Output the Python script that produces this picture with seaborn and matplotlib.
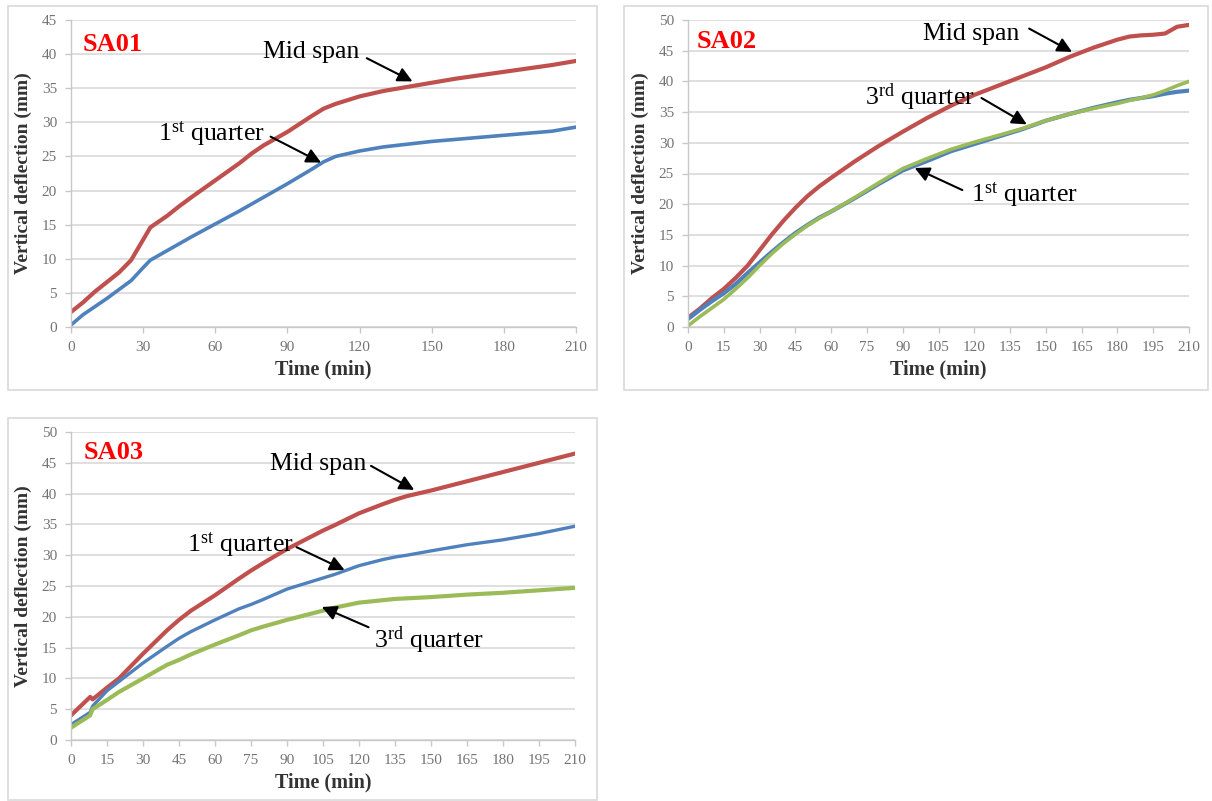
import numpy as np
import pandas as pd
import matplotlib
matplotlib.use("Agg")
import matplotlib.pyplot as plt
import seaborn as sns
from matplotlib.patches import Rectangle

# ---------------- data ----------------
sa01_time = [0, 5, 10, 15, 20, 25, 30, 33, 40, 45, 50, 60, 70, 75, 80, 90, 100, 105, 110,
             120, 130, 140, 150, 160, 170, 180, 190, 200, 210]
sa01_mid = [2.2, 3.6, 5.2, 6.6, 8.0, 9.8, 12.8, 14.6, 16.3, 17.7, 19.0, 21.5, 24.0, 25.4, 26.6,
            28.6, 30.9, 32.0, 32.7, 33.8, 34.6, 35.2, 35.8, 36.4, 36.9, 37.4, 37.9, 38.4, 39.0]
sa01_q1 = [0.3, 1.8, 3.0, 4.2, 5.5, 6.8, 8.7, 9.8, 11.2, 12.2, 13.2, 15.1, 17.0, 18.0, 19.0,
           21.0, 23.1, 24.2, 25.0, 25.8, 26.4, 26.8, 27.2, 27.5, 27.8, 28.1, 28.4, 28.7, 29.3]

sa02_time = [0, 5, 10, 15, 20, 25, 30, 35, 40, 45, 50, 55, 60, 70, 80, 90, 100, 110, 120, 130,
             140, 150, 160, 170, 180, 185, 190, 195, 200, 205, 210]
sa02_mid = [1.5, 3.0, 4.7, 6.2, 8.0, 10.0, 12.5, 15.0, 17.3, 19.4, 21.3, 22.9, 24.3, 27.0, 29.5,
            31.8, 34.0, 36.0, 37.8, 39.3, 40.8, 42.3, 44.0, 45.5, 46.8, 47.3, 47.5, 47.6, 47.8,
            48.9, 49.2]
sa02_q1 = [1.3, 2.8, 4.2, 5.5, 7.0, 8.8, 10.5, 12.2, 13.8, 15.3, 16.6, 17.8, 18.8, 21.0, 23.3,
           25.5, 27.0, 28.6, 29.8, 31.0, 32.2, 33.6, 34.7, 35.7, 36.6, 37.0, 37.3, 37.6, 38.0,
           38.3, 38.5]
sa02_q3 = [0.2, 1.7, 3.1, 4.5, 6.2, 8.0, 10.0, 11.9, 13.6, 15.1, 16.5, 17.7, 18.8, 21.1, 23.5,
           25.8, 27.4, 28.9, 30.1, 31.2, 32.3, 33.6, 34.7, 35.6, 36.4, 36.9, 37.3, 37.8, 38.5,
           39.3, 40.0]

sa03_time = [0, 4, 8, 9, 15, 20, 30, 40, 45, 50, 60, 70, 75, 80, 90, 100, 105, 110, 120, 130,
             135, 140, 150, 165, 180, 195, 210]
sa03_mid = [4.0, 5.5, 7.0, 6.6, 8.5, 10.0, 14.0, 17.8, 19.5, 21.0, 23.5, 26.2, 27.5, 28.7, 31.0,
            33.0, 34.0, 34.9, 36.8, 38.3, 39.0, 39.6, 40.5, 42.0, 43.5, 45.0, 46.5]
sa03_q1 = [2.5, 3.5, 4.5, 5.5, 8.0, 9.5, 12.5, 15.2, 16.5, 17.6, 19.5, 21.3, 22.0, 22.8, 24.5,
           25.7, 26.3, 26.9, 28.3, 29.3, 29.7, 30.0, 30.7, 31.7, 32.5, 33.5, 34.7]
sa03_q3 = [2.0, 3.0, 4.0, 5.0, 6.5, 7.8, 10.0, 12.2, 13.0, 13.9, 15.5, 17.0, 17.8, 18.4, 19.5,
           20.5, 21.0, 21.5, 22.3, 22.7, 22.9, 23.0, 23.2, 23.6, 23.9, 24.3, 24.7]

titles = ["SA01", "SA02", "SA03"]
x_label = "Time (min)"
y_label = "Vertical deflection (mm)"

RED = "#c0504d"
BLUE = "#4f81bd"
GREEN = "#9bbb59"

# ---------------- style ----------------
sns.set_theme(style="white")
plt.rcParams["font.family"] = ["Liberation Serif", "DejaVu Serif"]
plt.rcParams["mathtext.fontset"] = "custom"
plt.rcParams["mathtext.rm"] = "Liberation Serif"
plt.rcParams["mathtext.it"] = "Liberation Serif:italic"
plt.rcParams["mathtext.bf"] = "Liberation Serif:bold"

W, H = 1212, 801
fig = plt.figure(figsize=(W / 100, H / 100), dpi=100)
fig.patch.set_facecolor("white")


def px_box(x0, y0, x1, y1):
    return [x0 / W, 1 - y1 / H, (x1 - x0) / W, (y1 - y0) / H]


# panel frames
for (x0, y0, x1, y1) in [(8, 6, 597, 390), (624, 6, 1208, 390), (8, 418, 597, 800)]:
    fig.add_artist(Rectangle((x0 / W, 1 - y1 / H), (x1 - x0) / W, (y1 - y0) / H,
                             transform=fig.transFigure, fill=False,
                             edgecolor="#d9d9d9", lw=1.2))

ax1 = fig.add_axes(px_box(71, 20, 576, 327))
ax2 = fig.add_axes(px_box(688, 20, 1189, 327))
ax3 = fig.add_axes(px_box(71, 432, 575, 740))


def style_axes(ax, ymax, xstep):
    ax.set_xlim(0, 210)
    ax.set_ylim(0, ymax)
    ax.set_xticks(np.arange(0, 211, xstep))
    ax.set_yticks(np.arange(0, ymax + 1, 5))
    ax.grid(axis="y", color="#dcdcdc", lw=1.3)
    ax.grid(axis="x", visible=False)
    ax.set_axisbelow(True)
    for s in ["top", "right"]:
        ax.spines[s].set_visible(False)
    for s in ["left", "bottom"]:
        ax.spines[s].set_color("#c8c8c8")
        ax.spines[s].set_linewidth(1.0)
    ax.tick_params(axis="both", which="major", colors="#c8c8c8", labelcolor="#747474",
                   labelsize=11, length=4, width=1.0, direction="out",
                   bottom=True, left=True, pad=6)
    ax.set_xlabel(x_label, fontsize=14.5, fontweight="bold", color="#333333", labelpad=4)
    ax.set_ylabel(y_label, fontsize=14, fontweight="bold", color="#333333", labelpad=7)
    ax.set_facecolor("white")


arrow_kw = dict(arrowstyle="-|>", mutation_scale=22, lw=1.5, color="black",
                shrinkA=0, shrinkB=0)
ann_fs = 18.5


def label(ax, text, text_xy, tail, head, ha="center"):
    ax.text(text_xy[0], text_xy[1], text, fontsize=ann_fs, ha=ha, va="center",
            color="black")
    ax.annotate("", xy=head, xytext=tail, arrowprops=arrow_kw)


# ---------------- SA01 ----------------
d1 = pd.DataFrame({"t": sa01_time, "mid": sa01_mid, "q1": sa01_q1})
sns.lineplot(data=d1, x="t", y="mid", ax=ax1, color=RED, lw=3)
sns.lineplot(data=d1, x="t", y="q1", ax=ax1, color=BLUE, lw=2.6)
style_axes(ax1, 45, 30)
ax1.text(0.024, 0.92, titles[0], transform=ax1.transAxes, color="red",
         fontsize=19, fontweight="bold", va="center", ha="left")
label(ax1, "Mid span", (100, 40.3), (123, 39.4), (142, 36.0))
label(ax1, "1$^{\\mathrm{st}}$ quarter", (58.5, 28.4), (83, 27.9), (104, 24.1))

# ---------------- SA02 ----------------
d2 = pd.DataFrame({"t": sa02_time, "mid": sa02_mid, "q1": sa02_q1, "q3": sa02_q3})
sns.lineplot(data=d2, x="t", y="mid", ax=ax2, color=RED, lw=3)
sns.lineplot(data=d2, x="t", y="q1", ax=ax2, color=BLUE, lw=3)
sns.lineplot(data=d2, x="t", y="q3", ax=ax2, color=GREEN, lw=2.6)
style_axes(ax2, 50, 15)
ax2.text(0.018, 0.93, titles[1], transform=ax2.transAxes, color="red",
         fontsize=19, fontweight="bold", va="center", ha="left")
label(ax2, "Mid span", (118.5, 47.8), (143, 48.6), (161, 44.8))
label(ax2, "3$^{\\mathrm{rd}}$ quarter", (97, 37.4), (123, 37.3), (142, 33.0))
label(ax2, "1$^{\\mathrm{st}}$ quarter", (141, 21.5), (115, 22.3), (95, 25.9))

# ---------------- SA03 ----------------
d3 = pd.DataFrame({"t": sa03_time, "mid": sa03_mid, "q1": sa03_q1, "q3": sa03_q3})
sns.lineplot(data=d3, x="t", y="mid", ax=ax3, color=RED, lw=3)
sns.lineplot(data=d3, x="t", y="q1", ax=ax3, color=BLUE, lw=2.4)
sns.lineplot(data=d3, x="t", y="q3", ax=ax3, color=GREEN, lw=3)
style_axes(ax3, 50, 15)
ax3.text(0.026, 0.935, titles[2], transform=ax3.transAxes, color="red",
         fontsize=19, fontweight="bold", va="center", ha="left")
label(ax3, "Mid span", (103, 44.8), (125, 44.5), (143, 40.6))
label(ax3, "1$^{\\mathrm{st}}$ quarter", (70.5, 31.8), (94, 31.3), (114, 27.6))
label(ax3, "3$^{\\mathrm{rd}}$ quarter", (149, 16.2), (124, 18.3), (104.5, 21.6))

fig.savefig("out.png", dpi=100, facecolor="white")
